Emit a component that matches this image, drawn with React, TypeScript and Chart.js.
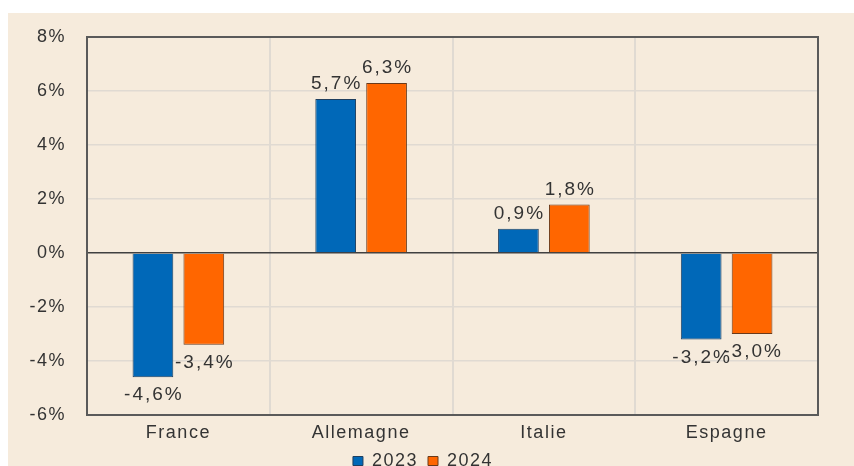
import React, { useEffect, useRef } from "react";
import { Chart, registerables } from "chart.js";

Chart.register(...registerables);

const categories = ["France", "Allemagne", "Italie", "Espagne"];
const series2023 = [-4.6, 5.7, 0.9, -3.2];
const series2024 = [-3.4, 6.3, 1.8, -3.0];
const seriesNames = ["2023", "2024"];
const yTicks = [-6, -4, -2, 0, 2, 4, 6, 8];

const BG = "#F6EBDC";
const TEXT = "#333333";
const GRID = "#E0DAD2";
const FONT = "'Liberation Sans', Arial, sans-serif";
const SPACING = "1.5px";

const spacingPlugin = {
  id: "spacing",
  beforeUpdate(chart: any) {
    (chart.ctx as any).letterSpacing = SPACING;
  },
  beforeDraw(chart: any) {
    (chart.ctx as any).letterSpacing = SPACING;
  },
};

const legendShiftPlugin = {
  id: "legendShift",
  afterLayout(chart: any) {
    if (chart.legend) {
      chart.legend.left += 10;
      chart.legend.right += 10;
    }
  },
};

const framePlugin = {
  id: "frame",
  afterDraw(chart: any) {
    const { ctx, chartArea } = chart;
    ctx.save();
    ctx.strokeStyle = "#5A5A5A";
    ctx.lineWidth = 2;
    ctx.strokeRect(chartArea.left, chartArea.top, chartArea.right - chartArea.left, chartArea.bottom - chartArea.top);
    ctx.restore();
  },
};

const labelPlugin = {
  id: "valueLabels",
  afterDatasetsDraw(chart: any) {
    const { ctx } = chart;
    ctx.save();
    (ctx as any).letterSpacing = "2px";
    ctx.font = `19px ${FONT}`;
    ctx.fillStyle = TEXT;
    ctx.textAlign = "center";
    ctx.textBaseline = "middle";
    chart.data.datasets.forEach((ds: any, di: number) => {
      const meta = chart.getDatasetMeta(di);
      meta.data.forEach((el: any, i: number) => {
        const v = ds.data[i] as number;
        const txt = v.toFixed(1).replace(".", ",") + "%";
        const y = v >= 0 ? el.y - 15 : el.y + 18;
        ctx.fillText(txt, el.x + 1, y);
      });
    });
    ctx.restore();
  },
};

export default function App() {
  const ref = useRef<HTMLCanvasElement | null>(null);

  useEffect(() => {
    if (!ref.current) return;
    const chart = new Chart(ref.current, {
      type: "bar",
      data: {
        labels: categories,
        datasets: [
          {
            label: seriesNames[0],
            data: series2023,
            backgroundColor: "#0068B8",
            borderColor: "#1F3F5F",
            borderWidth: 1,
            categoryPercentage: 0.557,
            barPercentage: 0.8,
          },
          {
            label: seriesNames[1],
            data: series2024,
            backgroundColor: "#FF6600",
            borderColor: "#6A3A1A",
            borderWidth: 1,
            categoryPercentage: 0.557,
            barPercentage: 0.8,
          },
        ],
      },
      options: {
        animation: false,
        responsive: false,
        layout: { padding: { top: 24, right: 36, left: 0, bottom: 0 } },
        plugins: {
          legend: {
            position: "bottom",
            labels: {
              boxWidth: 10,
              boxHeight: 9,
              padding: 10,
              color: TEXT,
              font: { size: 18, family: FONT },
            },
          },
          tooltip: { enabled: false },
        },
        scales: {
          x: {
            afterFit: (scale: any) => {
              scale.height = 27;
            },
            grid: { color: GRID, lineWidth: 2, drawTicks: false, offset: true },
            border: { display: false },
            ticks: { color: TEXT, font: { size: 18, family: FONT }, padding: 7 },
          },
          y: {
            min: -6,
            max: 8,
            afterFit: (scale: any) => {
              scale.width = 79;
            },
            afterBuildTicks: (scale: any) => {
              scale.ticks = yTicks.map((v) => ({ value: v }));
            },
            grid: {
              drawTicks: true,
              tickLength: 21,
              tickColor: "rgba(0,0,0,0)",
              color: (c: any) => (c.tick && c.tick.value === 0 ? "#404040" : GRID),
              lineWidth: (c: any) => (c.tick && c.tick.value === 0 ? 1.5 : 1.5),
            },
            border: { display: false },
            ticks: {
              color: TEXT,
              font: { size: 18, family: FONT },
              padding: 0,
              callback: (v: any) => `${v}%`,
            },
          },
        },
      },
      plugins: [spacingPlugin, legendShiftPlugin, framePlugin, labelPlugin],
    });
    return () => chart.destroy();
  }, []);

  return (
    <div
      style={{
        position: "fixed",
        left: 8,
        top: 13,
        width: 846,
        height: 453,
        background: BG,
        overflow: "hidden",
      }}
    >
      <canvas ref={ref} width={846} height={467} style={{ display: "block" }} />
    </div>
  );
}
